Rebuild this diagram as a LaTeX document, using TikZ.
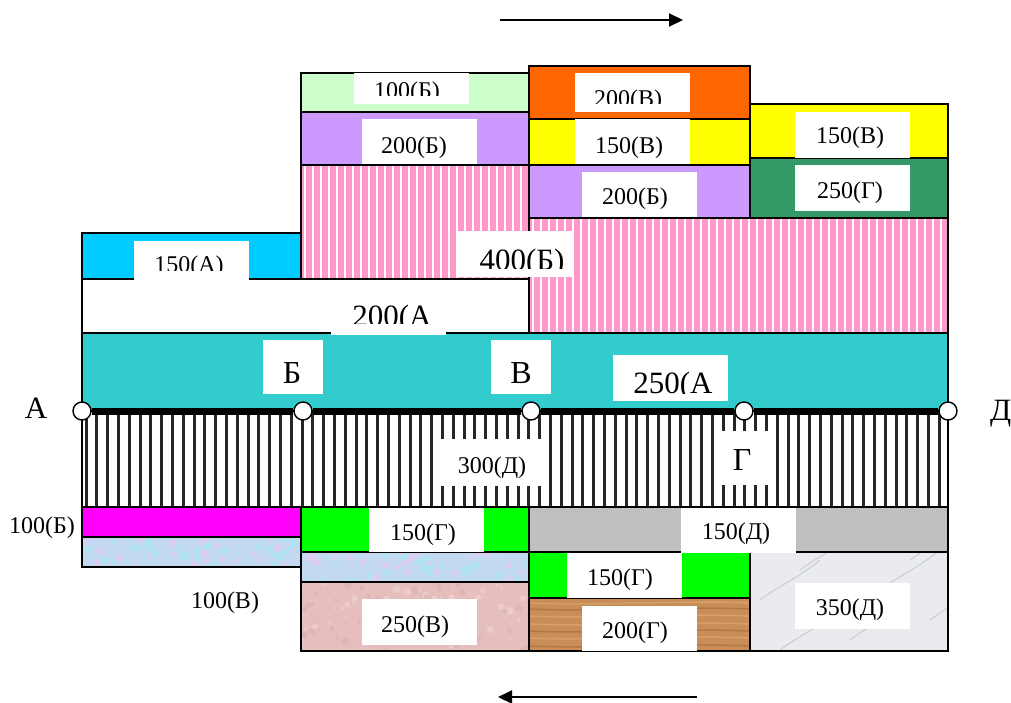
\documentclass[tikz,border=0pt]{standalone}
\usepackage{fontspec}
\setmainfont{Liberation Serif}
\usetikzlibrary{arrows.meta}
\definecolor{teal1}{HTML}{33CCCC}
\definecolor{cyan1}{HTML}{00CCFF}
\definecolor{pink1}{HTML}{FF99CC}
\definecolor{lgreen}{HTML}{CCFFCC}
\definecolor{purp}{HTML}{CC99FF}
\definecolor{orng}{HTML}{FF6600}
\definecolor{yell}{HTML}{FFFF00}
\definecolor{dgreen}{HTML}{339966}
\definecolor{magn}{HTML}{FF00FF}
\definecolor{grn}{HTML}{00FF00}
\definecolor{gry}{HTML}{C0C0C0}
\definecolor{lblue}{HTML}{C3D9F2}
\definecolor{lblueA}{HTML}{E2CCF0}
\definecolor{lblueB}{HTML}{ACE6F4}
\definecolor{rosy}{HTML}{E6BEBE}
\definecolor{rosyA}{HTML}{F0D2D2}
\definecolor{rosyB}{HTML}{D9AEB0}
\definecolor{wood}{HTML}{C98E57}
\definecolor{woodA}{HTML}{DCA872}
\definecolor{woodB}{HTML}{A8703F}
\definecolor{marb}{HTML}{E9EBEE}
\definecolor{marbA}{HTML}{C6C9CE}
\begin{document}
\begin{tikzpicture}[x=1pt,y=-1pt,
  bord/.style={draw=black,line width=1.6pt},
  fsmall/.style={font=\fontsize{24}{28}\selectfont},
  fbig/.style={font=\fontsize{31}{36}\selectfont},
  btxt/.style={anchor=base,inner sep=0pt},
  knot/.style={circle,draw=black,fill=white,line width=1.4pt,minimum size=18pt,inner sep=0pt},
  arr/.style={line width=2pt,-{Triangle[length=14pt,width=13pt]}}]
\useasboundingbox (0,0) rectangle (1011,702);
\fill[white] (0,0) rectangle (1011,702);

% ---------- fills ----------
\fill[teal1] (82,333) rectangle (948,411);
\fill[white] (82,279) rectangle (529,333);
\fill[cyan1] (82,233) rectangle (301,279);
\fill[pink1] (301,165) rectangle (529,279);
\fill[pink1] (529,218) rectangle (948,333);
\foreach \x in {305,313,...,527} \draw[white,line width=1.4pt] (\x,165) -- (\x,279);
\foreach \x in {533,541,...,945} \draw[white,line width=1.4pt] (\x,218) -- (\x,333);
\fill[lgreen] (301,73) rectangle (529,112);
\fill[purp] (301,112) rectangle (529,165);
\fill[orng] (529,66) rectangle (750,119);
\fill[yell] (529,119) rectangle (750,165);
\fill[purp] (529,165) rectangle (750,218);
\fill[yell] (750,104) rectangle (948,158);
\fill[dgreen] (750,158) rectangle (948,218);

% hatched band
\fill[white] (82,411) rectangle (948,507);
\foreach \x in {84.5,95.3,...,946} \fill[black!85] (\x,411) rectangle (\x+3,507);

% bottom
\fill[magn] (82,507) rectangle (301,537);
\fill[grn] (301,507) rectangle (529,552);
\fill[gry] (529,507) rectangle (948,552);
\fill[grn] (529,552) rectangle (750,598);
% textures
\begin{scope}
  \clip (82,537) rectangle (301,567) (301,552) rectangle (529,582);
  \fill[lblue] (82,537) rectangle (529,582);
  \pgfmathsetseed{7}
  \foreach \i in {1,...,220}{
    \pgfmathsetmacro\rx{82+rnd*447}\pgfmathsetmacro\ry{537+rnd*45}
    \pgfmathsetmacro\rr{1.5+rnd*3}
    \ifodd\i \fill[lblueA,opacity=.8] (\rx,\ry) circle (\rr); \else \fill[lblueB,opacity=.8] (\rx,\ry) circle (\rr); \fi}
\end{scope}
\begin{scope}
  \clip (301,582) rectangle (529,651);
  \fill[rosy] (301,582) rectangle (529,651);
  \pgfmathsetseed{11}
  \foreach \i in {1,...,120}{
    \pgfmathsetmacro\rx{301+rnd*228}\pgfmathsetmacro\ry{582+rnd*69}
    \pgfmathsetmacro\rr{1+rnd*3}
    \ifodd\i \fill[rosyA,opacity=.7] (\rx,\ry) circle (\rr); \else \fill[rosyB,opacity=.5] (\rx,\ry) circle (\rr); \fi}
\end{scope}
\begin{scope}
  \clip (529,598) rectangle (750,651);
  \fill[wood] (529,598) rectangle (750,651);
  \foreach \yy/\cc in {603/woodA,609/woodB,616/woodA,624/woodA,631/woodB,638/woodA,646/woodB}
    \draw[\cc,line width=1.5pt,opacity=.7] (529,\yy) .. controls (600,\yy+3) and (680,\yy-3) .. (750,\yy);
\end{scope}
\begin{scope}
  \clip (750,552) rectangle (948,651);
  \fill[marb] (750,552) rectangle (948,651);
  \foreach \sx/\sy in {760/600,800/570,850/640,880/590,910/560,780/650,930/620}
    \draw[marbA,line width=1.2pt,opacity=.8] (\sx,\sy) .. controls (\sx+20,\sy-15) and (\sx+35,\sy-20) .. (\sx+60,\sy-40);
\end{scope}

% ---------- borders ----------
\draw[bord] (82,333) rectangle (948,411);
\draw[bord] (82,279) rectangle (529,333);
\draw[bord] (82,233) rectangle (301,279);
\draw[bord] (301,165) rectangle (529,279);
\draw[bord] (529,218) rectangle (948,333);
\draw[bord] (301,73) rectangle (529,112);
\draw[bord] (301,112) rectangle (529,165);
\draw[bord] (529,66) rectangle (750,119);
\draw[bord] (529,119) rectangle (750,165);
\draw[bord] (529,165) rectangle (750,218);
\draw[bord] (750,104) rectangle (948,158);
\draw[bord] (750,158) rectangle (948,218);
\draw[bord] (82,411) rectangle (948,507);
\draw[bord] (82,507) rectangle (301,537);
\draw[bord] (82,537) rectangle (301,567);
\draw[bord] (301,507) rectangle (529,552);
\draw[bord] (301,552) rectangle (529,582);
\draw[bord] (301,582) rectangle (529,651);
\draw[bord] (529,507) rectangle (948,552);
\draw[bord] (529,552) rectangle (750,598);
\draw[bord] (529,598) rectangle (750,651);
\draw[bord] (750,552) rectangle (948,651);

% ---------- label boxes (plain) ----------
\newcommand\plainlab[8]{% name, x1,y1,x2,y2, textx, baseline, text
  \fill[white] (#2,#3) rectangle (#4,#5);
  \node[btxt,fsmall] (#1) at (#6,#7) {#8};}
\plainlab{tA}{362}{119}{477}{164}{414}{153}{200(Б)}
\plainlab{tB}{575}{119}{690}{164}{629}{153}{150(В)}
\plainlab{tC}{582}{172}{697}{217}{635}{204}{200(Б)}
\plainlab{tD}{795}{112}{910}{158}{850}{143}{150(В)}
\plainlab{tE}{795}{165}{910}{211}{850}{198}{250(Г)}
\plainlab{tF}{437}{439}{548}{486}{492}{473}{300(Д)}
\plainlab{tG}{369}{508}{484}{552}{423}{540}{150(Г)}
\plainlab{tH}{681}{508}{796}{553}{736}{539}{150(Д)}
\plainlab{tI}{567}{553}{682}{598}{620}{585}{150(Г)}
\plainlab{tJ}{582}{606}{697}{651}{635}{638}{200(Г)}
\plainlab{tK}{795}{583}{910}{629}{850}{615}{350(Д)}
\plainlab{tL}{362}{599}{477}{645}{415}{632}{250(В)}

% big letter boxes
\fill[white] (263,340) rectangle (323,394);
\node[btxt,font=\fontsize{32}{36}\selectfont] (lB) at (292,383) {Б};
\fill[white] (491,340) rectangle (551,394);
\node[btxt,font=\fontsize{32}{36}\selectfont] (lV) at (521,383) {В};
\fill[white] (717,431) rectangle (772,485);
\node[btxt,font=\fontsize{32}{36}\selectfont] (lG) at (742,470) {Г};

% ---------- clipped label boxes ----------
\newcommand\cliplab[9]{% name,x1,y1,x2,y2,clipy,textx,baseline,text
  \fill[white] (#2,#3) rectangle (#4,#5);
  \begin{scope}\clip (#2,#3) rectangle (#4,#6);
  \node[btxt] (#1) at (#7,#8) {#9};\end{scope}}
\cliplab{cA}{354}{73}{469}{104}{95}{407}{98}{\fontsize{24}{28}\selectfont 100(Б)}
\cliplab{cB}{575}{73}{690}{112}{103}{628}{106}{\fontsize{24}{28}\selectfont 200(В)}
\cliplab{cC}{134}{241}{249}{280}{270}{189}{272}{\fontsize{24}{28}\selectfont 150(А)}
\cliplab{cD}{457}{231}{572}{277}{268}{522}{270}{\fontsize{31}{36}\selectfont 400(Б)}
\cliplab{cE}{331}{287}{446}{335}{323}{392}{326}{\fontsize{31}{36}\selectfont 200(А}
\cliplab{cF}{613}{355}{728}{401}{393}{673}{393}{\fontsize{31}{36}\selectfont 250(А}

% free labels
\node[btxt,fsmall] (o1) at (42,533) {100(Б)};
\node[btxt,fsmall] (o2) at (225,608) {100(В)};
\node[btxt,fbig] (pA) at (36,418) {А};
\node[btxt,fbig,anchor=base west] (pD) at (990,420) {Д};

% ---------- main line and knots ----------
\node[knot] (kA) at (82,411) {};
\node[knot] (kB) at (303,411) {};
\node[knot] (kV) at (531,411) {};
\node[knot] (kG) at (744,411) {};
\node[knot] (kD) at (948,411) {};
\draw[line width=7pt] (kA.east) -- (kB.west) (kB.east) -- (kV.west) (kV.east) -- (kG.west) (kG.east) -- (kD.west);

% ---------- arrows ----------
\coordinate (r1) at (500,20);
\coordinate (r2) at (683,20);
\coordinate (l1) at (697,697);
\coordinate (l2) at (498,697);
\draw[arr] (r1) -- (r2);
\draw[arr] (l1) -- (l2);
\end{tikzpicture}
\end{document}
